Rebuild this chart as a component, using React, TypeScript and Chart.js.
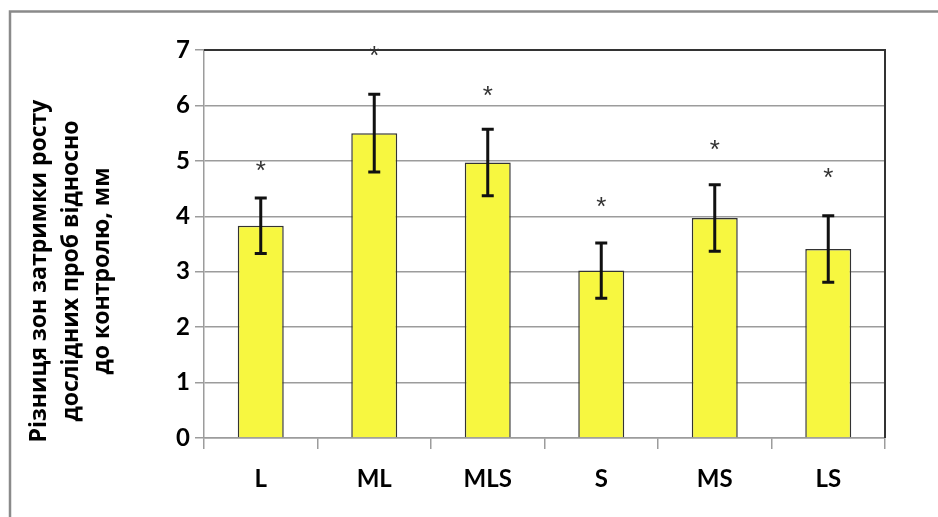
import { useEffect, useRef } from "react";
import { Chart, registerables } from "chart.js";
Chart.register(...registerables);

const categories = ["L", "ML", "MLS", "S", "MS", "LS"];
const means = [3.83, 5.5, 4.97, 3.02, 3.97, 3.41];
const errors = [0.5, 0.7, 0.6, 0.5, 0.6, 0.6];
const starLevels = [4.91, 6.98, 6.26, 4.26, 5.29, 4.78];
const yMin = 0;
const yMax = 7;
const yStep = 1;
const yTitle = ["Різниця зон затримки росту", "дослідних проб відносно", "до контролю, мм"];

const GRID = "#9c9c9c";

const decorPlugin = {
  id: "decor",
  beforeDraw(chart: any) {
    const ctx = chart.ctx;
    ctx.save();
    ctx.strokeStyle = "#8a8a8a";
    ctx.lineWidth = 2.5;
    ctx.beginPath();
    ctx.moveTo(10, 520);
    ctx.lineTo(10, 11.5);
    ctx.lineTo(940, 11.5);
    ctx.stroke();
    ctx.restore();
  },
  afterDatasetsDraw(chart: any) {
    const ctx = chart.ctx;
    const meta = chart.getDatasetMeta(0);
    const ys = chart.scales.y;
    ctx.save();
    // error bars
    ctx.strokeStyle = "#111";
    ctx.lineWidth = 3;
    meta.data.forEach((bar: any, i: number) => {
      const x = bar.x;
      const top = ys.getPixelForValue(means[i] + errors[i]);
      const bot = ys.getPixelForValue(means[i] - errors[i]);
      ctx.beginPath();
      ctx.moveTo(x, top);
      ctx.lineTo(x, bot);
      ctx.moveTo(x - 6, top);
      ctx.lineTo(x + 6, top);
      ctx.moveTo(x - 6, bot);
      ctx.lineTo(x + 6, bot);
      ctx.stroke();
    });
    // asterisks
    ctx.fillStyle = "#333";
    ctx.font = "26px 'Liberation Sans'";
    ctx.textAlign = "center";
    ctx.textBaseline = "alphabetic";
    meta.data.forEach((bar: any, i: number) => {
      const py = ys.getPixelForValue(starLevels[i]);
      const m = ctx.measureText("*");
      const off = (m.actualBoundingBoxAscent - m.actualBoundingBoxDescent) / 2;
      ctx.fillText("*", bar.x, py + off);
    });
    ctx.restore();
  },
  afterDraw(chart: any) {
    const ctx = chart.ctx;
    const a = chart.chartArea;
    ctx.save();
    ctx.strokeStyle = "#333";
    ctx.lineWidth = 2;
    ctx.beginPath();
    ctx.moveTo(a.left, a.top);
    ctx.lineTo(a.right, a.top);
    ctx.lineTo(a.right, a.bottom);
    ctx.stroke();
    // y title
    ctx.fillStyle = "#000";
    ctx.font = "bold 23px 'Open Sans'";
    ctx.textAlign = "center";
    ctx.textBaseline = "alphabetic";
    const cy = (a.top + a.bottom) / 2 + 27;
    ctx.translate(0, cy);
    ctx.rotate(-Math.PI / 2);
    const baselines = [46, 78, 109];
    yTitle.forEach((line, i) => ctx.fillText(line, 0, baselines[i]));
    ctx.restore();
  },
};

export default function App() {
  const ref = useRef<HTMLCanvasElement>(null);
  useEffect(() => {
    const chart = new Chart(ref.current!, {
      type: "bar",
      data: {
        labels: categories,
        datasets: [
          {
            data: means,
            backgroundColor: "#f7f740",
            borderColor: "#333",
            borderWidth: 1.5,
            barPercentage: 0.405,
            categoryPercentage: 1,
          },
        ],
      },
      options: {
        responsive: false,
        animation: false,
        layout: { padding: { left: 0, top: 50, right: 53, bottom: 0 } },
        plugins: { legend: { display: false }, tooltip: { enabled: false } },
        scales: {
          y: {
            min: yMin,
            max: yMax,
            afterFit(scale: any) {
              scale.width = 204;
            },
            ticks: {
              stepSize: yStep,
              color: "#000",
              padding: 5,
              font: { family: "Lato", weight: "bold", size: 24 },
            },
            grid: { color: GRID, lineWidth: 1.5, tickLength: 9 },
            border: { color: GRID, width: 1.5 },
          },
          x: {
            afterFit(scale: any) {
              scale.height = 79;
            },
            ticks: {
              color: "#000",
              padding: 16,
              font: { family: "Lato", weight: "bold", size: 24 },
            },
            grid: { drawOnChartArea: false, color: GRID, lineWidth: 1.5, tickLength: 11, offset: true },
            border: { color: GRID, width: 1.5 },
          },
        },
      },
      plugins: [decorPlugin],
    });
    return () => chart.destroy();
  }, []);
  return (
    <div style={{ position: "absolute", left: 0, top: 0, width: 938, height: 517, overflow: "hidden", background: "#fff" }}>
      <canvas ref={ref} width={938} height={517} style={{ display: "block" }} />
    </div>
  );
}
